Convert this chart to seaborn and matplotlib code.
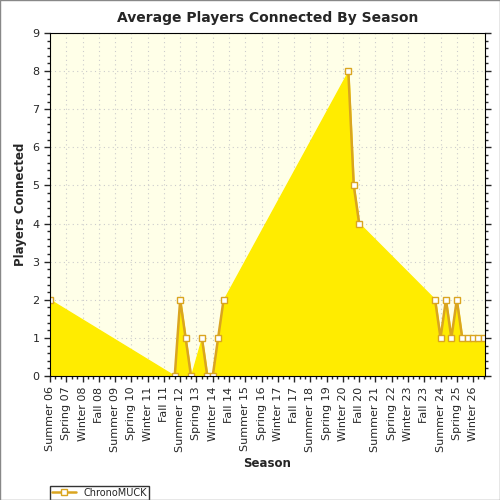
import matplotlib
matplotlib.use("Agg")
import matplotlib.pyplot as plt
import seaborn as sns
import pandas as pd
from matplotlib.ticker import MultipleLocator, FixedLocator

# season axis: Summer 06 .. Summer 26, in Summer/Fall/Winter/Spring order
seasons = ["Summer 06"]
for yr in range(6, 26):
    seasons += ["Fall %02d" % yr, "Winter %02d" % (yr + 1), "Spring %02d" % (yr + 1), "Summer %02d" % (yr + 1)]

point_seasons = ["Summer 06", "Spring 12", "Summer 12", "Fall 12", "Winter 13", "Summer 13",
                 "Fall 13", "Winter 14", "Spring 14", "Summer 14", "Spring 20", "Summer 20",
                 "Fall 20", "Spring 24", "Summer 24", "Fall 24", "Winter 25", "Spring 25",
                 "Summer 25", "Fall 25", "Winter 26", "Spring 26", "Summer 26"]
players = [2, 0, 2, 1, 0, 1, 0, 0, 1, 2, 8, 5, 4, 2, 1, 2, 1, 2, 1, 1, 1, 1, 1]

df = pd.DataFrame({"season": point_seasons, "players": players})
df["pos"] = [seasons.index(s) for s in point_seasons]
# runs of consecutive seasons get a stroked line; gaps are only filled
df["run"] = (df["pos"].diff() != 1).cumsum()

sns.set_style("white")
fig = plt.figure(figsize=(5, 5), dpi=100)
ax = fig.add_axes([0.10, 0.248, 0.87, 0.686])
ax.set_facecolor("#FFFFE8")

ax.fill_between(df["pos"], df["players"], color="#FFEC00", zorder=1)
for i, (_, grp) in enumerate(df.groupby("run")):
    sns.lineplot(data=grp, x="pos", y="players", ax=ax, color="#DAA520", lw=1.8, zorder=2,
                 marker="s", markersize=5, markerfacecolor="white", markeredgecolor="#DAA520",
                 markeredgewidth=1, label="ChronoMUCK" if i == 0 else None, legend=i == 0)
ax.set_xlim(0, len(seasons) - 0.8)
ax.set_ylim(0, 9)
ax.yaxis.set_major_locator(MultipleLocator(1))
ax.yaxis.set_minor_locator(MultipleLocator(0.2))
ax.xaxis.set_major_locator(FixedLocator(range(0, len(seasons), 3)))
ax.xaxis.set_minor_locator(FixedLocator(range(len(seasons))))
ax.set_xticklabels(seasons[::3], rotation=90, fontsize=8)
ax.tick_params(axis="y", labelsize=8)
ax.tick_params(which="both", direction="out", bottom=True, left=True, right=True, length=4, width=1)
ax.tick_params(which="minor", length=2.5)
ax.grid(True, which="major", color="#CCCCCC", linestyle=(0, (1, 3)), lw=0.8)
for s in ax.spines.values():
    s.set_color("black")
ax.set_xlabel("Season", fontsize=8.5, fontweight="bold")
ax.set_ylabel("Players Connected", fontsize=8.5, fontweight="bold")
ax.set_title("Average Players Connected By Season", fontsize=10, fontweight="bold", pad=8)
ax.legend(loc="lower left", bbox_to_anchor=(-0.012, -0.375), fontsize=7, frameon=True,
          fancybox=False, edgecolor="black", handlelength=2.5, borderpad=0.2)
fig.patches.append(plt.Rectangle((0, 0), 1, 1, transform=fig.transFigure, fill=False,
                                 edgecolor="#888888", lw=1))
fig.savefig("out.png", dpi=100)
